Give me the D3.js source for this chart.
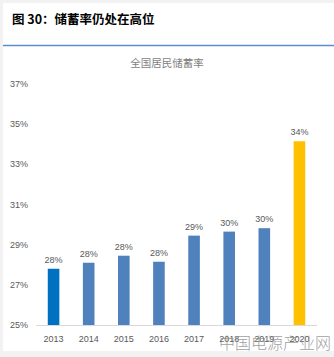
<!DOCTYPE html>
<html><head><meta charset="utf-8">
<script src="https://cdn.jsdelivr.net/npm/d3@7"></script>
<style>
html,body{margin:0;padding:0;background:#f2f2f2;}
svg{display:block;}
text{font-family:"Liberation Sans","DejaVu Sans",sans-serif;}
.cjk{font-family:"Noto Sans CJK SC",sans-serif;}
</style></head>
<body>
<svg id="c" width="334" height="357"></svg>
<script>
const categories = ["2013","2014","2015","2016","2017","2018","2019","2020"];
const values = [27.8, 28.1, 28.45, 28.15, 29.45, 29.65, 29.82, 34.15];
const labels = ["28%","28%","28%","28%","29%","30%","30%","34%"];
const colors = ["#0070C0","#4F81BD","#4F81BD","#4F81BD","#4F81BD","#4F81BD","#4F81BD","#FFC000"];
const yTicks = [25,27,29,31,33,35,37];

const svg = d3.select("#c");
svg.append("rect").attr("x",3).attr("y",3).attr("width",331).attr("height",348).attr("fill","#fff");
svg.append("text").attr("class","cjk").attr("x",12).attr("y",24).attr("font-size",12.5).attr("font-weight","bold").attr("fill","#000").text("图 30：储蓄率仍处在高位");
svg.append("line").attr("x1",3).attr("x2",334).attr("y1",45.5).attr("y2",45.5).attr("stroke","#5B8BD0").attr("stroke-width",1.5);

const x = d3.scaleBand().domain(categories).range([36,317]).paddingInner(0.67).paddingOuter(0.335);
const y = d3.scaleLinear().domain([25,37]).range([325,84]);

svg.append("text").attr("class","cjk").attr("x",167).attr("y",67).attr("text-anchor","middle").attr("font-size",10.5).attr("fill","#7f7f7f").text("全国居民储蓄率");

svg.selectAll(".yt").data(yTicks).enter().append("text")
  .attr("x",10).attr("y",d=>y(d)+3).attr("font-size",9).attr("fill","#595959").text(d=>d+"%");

svg.selectAll(".bar").data(values).enter().append("rect")
  .attr("x",(d,i)=>x(categories[i])).attr("width",x.bandwidth())
  .attr("y",d=>y(d)).attr("height",d=>y(25)-y(d)).attr("fill",(d,i)=>colors[i]);

svg.append("line").attr("x1",36).attr("x2",317).attr("y1",325.5).attr("y2",325.5).attr("stroke","#d9d9d9").attr("stroke-width",1);

svg.selectAll(".lab").data(values).enter().append("text")
  .attr("x",(d,i)=>x(categories[i])+x.bandwidth()/2).attr("y",d=>y(d)-6)
  .attr("text-anchor","middle").attr("font-size",9).attr("fill","#595959").text((d,i)=>labels[i]);

svg.selectAll(".xt").data(categories).enter().append("text")
  .attr("x",d=>x(d)+x.bandwidth()/2).attr("y",342).attr("text-anchor","middle")
  .attr("font-size",9).attr("fill","#595959").text(d=>d);

svg.append("text").attr("class","cjk").attr("x",331).attr("y",349).attr("text-anchor","end")
  .attr("font-size",16).attr("font-weight",300).attr("fill","#8a8a8a").attr("opacity",0.8).text("中国电源产业网");
</script>
</body></html>
